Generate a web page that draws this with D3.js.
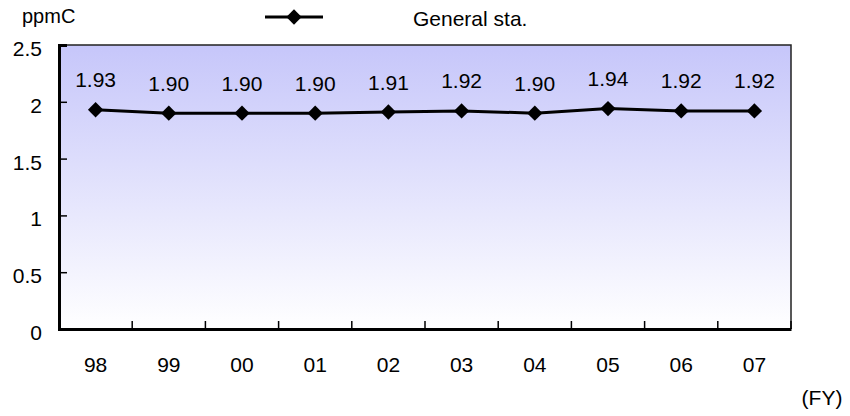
<!DOCTYPE html>
<html><head><meta charset="utf-8">
<script src="https://cdn.jsdelivr.net/npm/d3@7"></script>
<style>body{margin:0;background:#fff}text{font-family:"Liberation Sans",Arial,sans-serif;fill:#000}</style>
</head><body><svg id="c" width="850" height="416"></svg>
<script>
const years = ["98","99","00","01","02","03","04","05","06","07"];
const values = [1.93,1.90,1.90,1.90,1.91,1.92,1.90,1.94,1.92,1.92];
const valueLabels = ["1.93","1.90","1.90","1.90","1.91","1.92","1.90","1.94","1.92","1.92"];
const yTicks = [0,0.5,1,1.5,2,2.5];
const yTickLabels = ["0","0.5","1","1.5","2","2.5"];
const seriesName = "General sta.";
const unitLabel = "ppmC";
const xUnitLabel = "(FY)";

const svg = d3.select("#c");
const L=59,R=791,T=45,B=329;
const FS=21;
const x = d3.scaleBand().domain(years).range([L,R]);
const y = d3.scaleLinear().domain([0,2.5]).range([B,T]);

const defs = svg.append("defs");
const g = defs.append("linearGradient").attr("id","bg").attr("x1",0).attr("y1",0).attr("x2",0).attr("y2",1);
g.append("stop").attr("offset","0%").attr("stop-color","#c6c6fa");
g.append("stop").attr("offset","100%").attr("stop-color","#ffffff");

svg.append("rect").attr("x",L).attr("y",T).attr("width",R-L).attr("height",B-T).attr("fill","url(#bg)");
svg.append("path").attr("d",`M${L},${T}H${R}V${B}`).attr("fill","none").attr("stroke","#222").attr("stroke-width",1.5);

const ya = svg.append("g").attr("transform",`translate(${L},0)`)
  .call(d3.axisLeft(y).tickValues(yTicks).tickSize(-8).tickPadding(17).tickFormat((d,i)=>yTickLabels[i]));
ya.select(".domain").attr("stroke","#000").attr("stroke-width",3);
ya.selectAll(".tick line").attr("stroke","#000").attr("stroke-width",1.5);
ya.selectAll(".tick text").attr("font-size",FS).attr("dy","0.5em").attr("font-family","Liberation Sans, Arial, sans-serif");

const xa = svg.append("g").attr("transform",`translate(0,${B})`)
  .call(d3.axisBottom(x).tickSize(0).tickPadding(28));
xa.select(".domain").attr("stroke","#000").attr("stroke-width",3);
xa.selectAll(".tick text").attr("font-size",FS).attr("font-family","Liberation Sans, Arial, sans-serif");
const bounds = years.map(d=>x(d)).slice(1).concat([R]);
svg.append("g").selectAll("line").data(bounds).join("line")
  .attr("x1",d=>d).attr("x2",d=>d).attr("y1",B).attr("y2",B-8)
  .attr("stroke","#000").attr("stroke-width",1.5);

const cx = d=>x(d)+x.bandwidth()/2;
const line = d3.line().x((d,i)=>cx(years[i])).y(d=>y(d));
svg.append("path").datum(values).attr("d",line).attr("fill","none").attr("stroke","#000").attr("stroke-width",3);
const diamond = d3.symbol().type(d3.symbolDiamond2).size(150);
svg.append("g").selectAll("path").data(values).join("path")
  .attr("d",diamond).attr("transform",(d,i)=>`translate(${cx(years[i])},${y(d)})`).attr("fill","#000");
svg.append("g").selectAll("text").data(values).join("text")
  .attr("x",(d,i)=>cx(years[i])).attr("y",d=>y(d)-22.5).attr("text-anchor","middle").attr("font-size",FS)
  .text((d,i)=>valueLabels[i]);

svg.append("line").attr("x1",265).attr("x2",323).attr("y1",17).attr("y2",17).attr("stroke","#000").attr("stroke-width",3);
svg.append("path").attr("d",diamond).attr("transform","translate(294,17)").attr("fill","#000");
svg.append("text").attr("x",413).attr("y",26).attr("font-size",FS).text(seriesName);

svg.append("text").attr("x",22).attr("y",23).attr("font-size",FS-1).text(unitLabel);
svg.append("text").attr("x",822).attr("y",405).attr("text-anchor","middle").attr("font-size",FS).text(xUnitLabel);
</script></body></html>
